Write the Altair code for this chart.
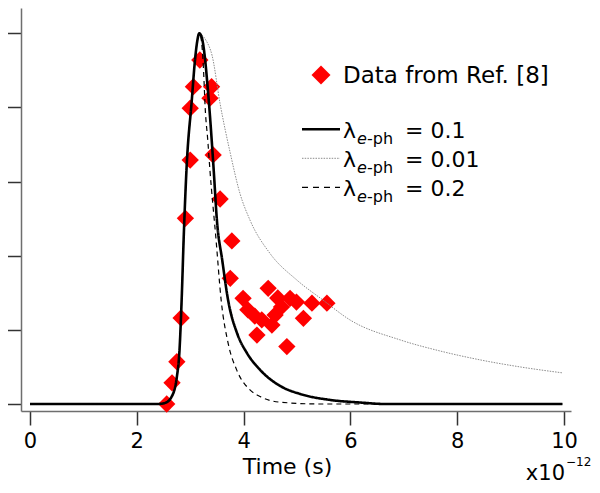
import altair as alt
import pandas as pd

# ---- values (time in units of 1e-12 s) ----
# rising edge shared by all three simulated curves
rise_t = [0.0, 2.40, 2.53, 2.65, 2.75, 2.80, 2.84, 2.88, 2.93, 3.03, 3.09, 3.13, 3.17]
rise_v = [0.0, 0.0, 0.003, 0.019, 0.073, 0.146, 0.281, 0.456, 0.631, 0.820, 0.928, 0.977, 1.0]

# lambda_e-ph = 0.1 (solid)
fall01_t = [3.22, 3.28, 3.32, 3.38, 3.44, 3.50, 3.60, 3.71, 3.88, 4.06, 4.31, 4.68, 5.06, 5.62, 6.18, 6.65, 9.97]
fall01_v = [0.987, 0.928, 0.866, 0.758, 0.631, 0.496, 0.388, 0.28, 0.19, 0.138, 0.092, 0.049, 0.027, 0.011, 0.004, 0.0, 0.0]

# lambda_e-ph = 0.01 (dotted grey)
fall001_t = [3.22, 3.30, 3.41, 3.56, 3.75, 3.93, 4.12, 4.49, 5.00, 5.49, 5.99, 6.93, 7.68, 8.43, 9.18, 9.97]
fall001_v = [0.995, 0.98, 0.94, 0.81, 0.677, 0.569, 0.496, 0.407, 0.334, 0.28, 0.227, 0.173, 0.143, 0.119, 0.10, 0.084]

# lambda_e-ph = 0.2 (dashed)
fall02_t = [3.20, 3.25, 3.28, 3.33, 3.37, 3.48, 3.58, 3.71, 3.87, 4.12, 4.31, 4.68, 5.43, 9.97]
fall02_v = [0.99, 0.90, 0.80, 0.71, 0.63, 0.45, 0.28, 0.164, 0.092, 0.038, 0.02, 0.005, 0.0, 0.0]

# experimental data (Ref. [8])
data_t = [2.56, 2.66, 2.75, 2.83, 2.91, 3.00, 3.00, 3.06, 3.18,
          3.37, 3.40, 3.43, 3.56, 3.78, 3.75,
          3.99, 4.08, 4.21, 4.34, 4.53, 4.25, 4.46, 4.59, 4.64, 4.71,
          4.87, 4.99, 5.12, 5.28, 5.56, 4.81]
data_v = [0.0, 0.057, 0.114, 0.232, 0.501, 0.658, 0.798, 0.856, 0.928,
          0.825, 0.856, 0.672, 0.553, 0.44, 0.339,
          0.285, 0.254, 0.237, 0.227, 0.213, 0.186, 0.312, 0.240, 0.286, 0.262,
          0.285, 0.275, 0.231, 0.272, 0.272, 0.155]

x_ticks = [0, 2, 4, 6, 8, 10]
y_ticks = [0, 0.2, 0.4, 0.6, 0.8, 1.0]
legend_values = ["0.1", "0.01", "0.2"]
data_label = "Data from Ref. [8]"
x_title = "Time (s)"

FONT = "DejaVu Sans"

def series(ts, vs):
    t = rise_t + ts
    v = rise_v + vs
    return pd.DataFrame({"t": t, "v": v, "i": list(range(len(t)))})

x_enc = alt.X("t:Q",
              scale=alt.Scale(domain=[-0.1685, 10.131], nice=False, zero=False),
              axis=alt.Axis(values=x_ticks, title=x_title, format="d",
                            labelFlush=False, tickSize=14, labelPadding=5,
                            titlePadding=5, titleX=266, titleAlign="center"))
y_enc = alt.Y("v:Q",
              scale=alt.Scale(domain=[-0.0189, 1.0683], nice=False, zero=False),
              axis=alt.Axis(values=y_ticks, labels=False, title=None, tickSize=14))

pts = alt.Chart(pd.DataFrame({"t": data_t, "v": data_v})).mark_point(
    shape="diamond", filled=True, color="#ff0000", opacity=1, size=300
).encode(x=x_enc, y=y_enc)

def line(df, color, width, dash):
    return alt.Chart(df).mark_line(
        color=color, strokeWidth=width, strokeDash=dash, interpolate="monotone"
    ).encode(x=x_enc, y=y_enc, order="i:Q")

l001 = line(series(fall001_t, fall001_v), "#8c8c8c", 1.0, [1.5, 1.2])
l02 = line(series(fall02_t, fall02_v), "#000000", 1.2, [5, 4])
l01 = line(series(fall01_t, fall01_v), "#000000", 2.6, [1, 0])

one = pd.DataFrame({"k": [0]})

def txt(s, x, y, size=22, align="left", style="normal", baseline="alphabetic"):
    return alt.Chart(one).mark_text(
        text=s, font=FONT, fontSize=size, fontStyle=style, align=align,
        baseline=baseline, color="#000000"
    ).encode(x=alt.value(x), y=alt.value(y))

layers = [pts, l001, l02, l01]

# legend: data marker
layers.append(alt.Chart(one).mark_point(shape="diamond", filled=True, color="#ff0000",
                                         opacity=1, size=360)
              .encode(x=alt.value(300), y=alt.value(67)))
layers.append(txt(data_label, 322, 75, size=23))

styles = [("#000000", 2.6, [1, 0]), ("#8c8c8c", 1.0, [1.5, 1.2]), ("#000000", 1.2, [6, 5])]
for i, (val, (col, w, d)) in enumerate(zip(legend_values, styles)):
    yl = 121.3 + 29 * i
    yb = 130 + 29 * i
    layers.append(alt.Chart(one).mark_rule(color=col, strokeWidth=w, strokeDash=d)
                  .encode(x=alt.value(281), x2=alt.value(319), y=alt.value(yl)))
    layers.append(txt("λ", 322, yb))
    layers.append(txt("e", 336, yb + 6, size=16, style="italic"))
    layers.append(txt("-ph", 346, yb + 6, size=16))
    layers.append(txt("= " + val, 384, yb))

# x10^-12 multiplier
layers.append(txt("x10", 544, 472, size=21, align="right"))
layers.append(txt("−12", 545, 458, size=12))

chart = alt.layer(*layers).properties(
    width=550, height=403,
    autosize=alt.AutoSizeParams(type="none"),
    padding={"left": 13, "top": 0, "right": 21, "bottom": 74},
).configure_view(stroke=None).configure_axis(
    grid=False, domainColor="#6e6e6e", domainWidth=1.5,
    tickColor="#333333", tickWidth=1.5,
    labelFont=FONT, labelFontSize=21, labelColor="#000000",
    titleFont=FONT, titleFontSize=22, titleFontWeight="normal", titleColor="#000000",
)

chart.save("out.html", embed_options={"renderer": "svg", "actions": False})
